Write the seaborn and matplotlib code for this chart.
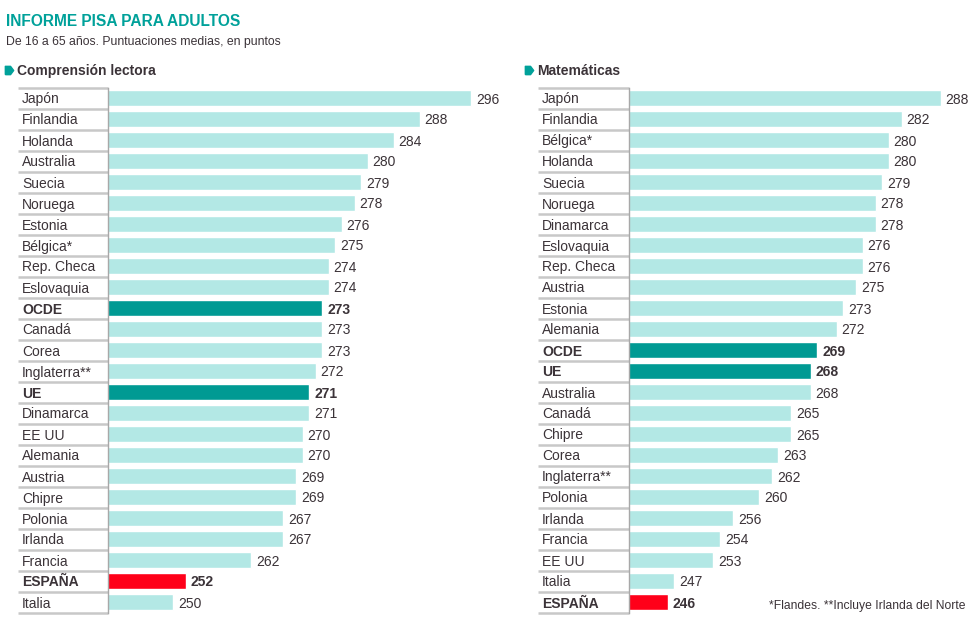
import numpy as np
import pandas as pd
import matplotlib
matplotlib.use("Agg")
import matplotlib.pyplot as plt
from matplotlib.lines import Line2D
from matplotlib.path import Path
import seaborn as sns

# Datos: puntuaciones medias (de 16 a 65 años)
paises_lectura = ['Japón', 'Finlandia', 'Holanda', 'Australia', 'Suecia', 'Noruega',
                  'Estonia', 'Bélgica*', 'Rep. Checa', 'Eslovaquia', 'OCDE', 'Canadá',
                  'Corea', 'Inglaterra**', 'UE', 'Dinamarca', 'EE UU', 'Alemania',
                  'Austria', 'Chipre', 'Polonia', 'Irlanda', 'Francia', 'ESPAÑA', 'Italia']
valores_lectura = [296, 288, 284, 280, 279, 278, 276, 275, 274, 274, 273, 273,
                   273, 272, 271, 271, 270, 270, 269, 269, 267, 267, 262, 252, 250]

paises_mates = ['Japón', 'Finlandia', 'Bélgica*', 'Holanda', 'Suecia', 'Noruega',
                'Dinamarca', 'Eslovaquia', 'Rep. Checa', 'Austria', 'Estonia', 'Alemania',
                'OCDE', 'UE', 'Australia', 'Canadá', 'Chipre', 'Corea', 'Inglaterra**',
                'Polonia', 'Irlanda', 'Francia', 'EE UU', 'Italia', 'ESPAÑA']
valores_mates = [288, 282, 280, 280, 279, 278, 278, 276, 276, 275, 273, 272,
                 269, 268, 268, 265, 265, 263, 262, 260, 256, 254, 253, 247, 246]

destacados_media = ['OCDE', 'UE']
destacado_espana = 'ESPAÑA'

COLOR_CLARO = '#b3e8e5'
COLOR_MEDIA = '#009a93'
COLOR_ESPANA = '#ff0019'
COLOR_TITULO = '#00a19a'
COLOR_TEXTO = '#3b3338'
COLOR_SEP = '#c8c8c8'

W, H = 980, 620
ESCALA = 6.49  # px por punto
X0 = 240
FS = 10

sns.set_theme(style="white")
plt.rcParams['font.family'] = ['Liberation Sans', 'DejaVu Sans']

fig = plt.figure(figsize=(W / 100, H / 100), dpi=100)


def tipo(p):
    if p in destacados_media:
        return 'media'
    if p == destacado_espana:
        return 'espana'
    return 'normal'


def panel(left_px, width_px, label_px, paises, valores, titulo):
    y_top, y_bot = 87.5, 612.5
    ax = fig.add_axes([left_px / W, 1 - y_bot / H, width_px / W, (y_bot - y_top) / H])
    df = pd.DataFrame({'pais': paises, 'valor': valores})
    df['tipo'] = df['pais'].map(tipo)
    sns.barplot(data=df, x='valor', y='pais', hue='tipo', dodge=False, width=0.72,
                palette={'normal': COLOR_CLARO, 'media': COLOR_MEDIA, 'espana': COLOR_ESPANA},
                legend=False, ax=ax, saturation=1, order=paises)
    ax.set_xlim(X0, X0 + width_px / ESCALA)
    ax.set_ylim(len(paises) - 0.5, -0.5)
    ax.set_xlabel('')
    ax.set_ylabel('')
    ax.set_xticks([])
    ax.set_yticks([])
    for s in ['top', 'right', 'bottom']:
        ax.spines[s].set_visible(False)
    ax.spines['left'].set_color('#a8a8a8')
    ax.spines['left'].set_linewidth(1.0)

    tr = ax.get_yaxis_transform()
    # separadores de filas en la columna de nombres
    bordes = np.arange(len(paises) + 1) - 0.5
    ax.hlines(bordes, -(left_px - label_px + 4) / width_px, 0, transform=tr,
              color=COLOR_SEP, lw=1.8, clip_on=False)

    for i, (p, v) in enumerate(zip(paises, valores)):
        peso = 'bold' if tipo(p) != 'normal' else 'normal'
        ax.text(-(left_px - label_px) / width_px, i, p, transform=tr, ha='left',
                va='center_baseline', fontsize=FS, color=COLOR_TEXTO, fontweight=peso)
        ax.text(v + 5 / ESCALA, i, str(v), ha='left', va='center_baseline', fontsize=FS,
                color=COLOR_TEXTO, fontweight=peso, clip_on=False)

    # cabecera del panel
    hx = label_px - 5
    verts = [(-1, -1), (0.25, -1), (1, 0), (0.25, 1), (-1, 1), (-1, -1)]
    fig.add_artist(Line2D([(hx - 8) / W], [1 - 69.5 / H], marker=Path(verts),
                          markersize=6, color=COLOR_TITULO, transform=fig.transFigure))
    fig.text(hx / W, 1 - 69.5 / H, titulo, ha='left', va='center_baseline', fontsize=10,
             fontweight='bold', color=COLOR_TEXTO)
    return ax


panel(108, 392, 22, paises_lectura, valores_lectura, 'Comprensión lectora')
panel(629, 341, 542, paises_mates, valores_mates, 'Matemáticas')

fig.text(6 / W, 1 - 19.5 / H, 'INFORME PISA PARA ADULTOS', ha='left', va='center_baseline',
         fontsize=11.2, fontweight='bold', color=COLOR_TITULO)
fig.text(6 / W, 1 - 40 / H, 'De 16 a 65 años. Puntuaciones medias, en puntos',
         ha='left', va='center_baseline', fontsize=8.8, color=COLOR_TEXTO)
fig.text(769 / W, 1 - 605 / H, '*Flandes. **Incluye Irlanda del Norte', ha='left',
         va='center_baseline', fontsize=8.7, color=COLOR_TEXTO)

fig.savefig('out.png', dpi=100)
